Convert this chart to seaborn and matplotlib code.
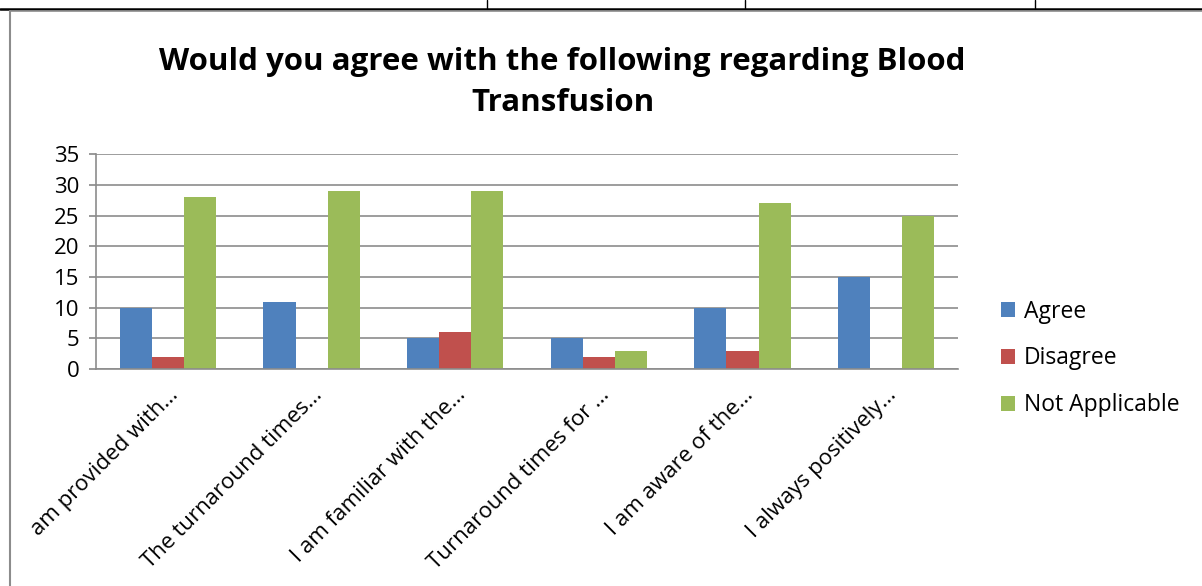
import matplotlib
matplotlib.use("Agg")
import matplotlib.pyplot as plt
import seaborn as sns
import pandas as pd
from matplotlib.lines import Line2D

categories = [
    "am provided with…",
    "The turnaround times…",
    "I am familiar with the…",
    "Turnaround times for …",
    "I am aware of the…",
    "I always positively…",
]
series_names = ["Agree", "Disagree", "Not Applicable"]
agree = [10, 11, 5, 5, 10, 15]
disagree = [2, 0, 6, 2, 3, 0]
not_applicable = [28, 29, 29, 3, 27, 25]
y_ticks = [0, 5, 10, 15, 20, 25, 30, 35]
title = "Would you agree with the following regarding Blood\nTransfusion"
colors = ["#4F81BD", "#C0504D", "#9BBB59"]

sns.set_theme(style="white")
plt.rcParams["font.family"] = ["Open Sans", "DejaVu Sans"]
plt.rcParams["text.color"] = "black"

df = pd.DataFrame({
    "question": categories * 3,
    "response": sum([[s] * len(categories) for s in series_names], []),
    "count": agree + disagree + not_applicable,
})

fig = plt.figure(figsize=(12.02, 5.86), dpi=100)
ax = fig.add_axes([0.080, 0.370, 0.717, 0.367])

sns.barplot(data=df, x="question", y="count", hue="response",
            palette=colors, width=0.67, gap=0, saturation=1,
            edgecolor="none", ax=ax, legend=True)

ax.set_ylim(0, 35)
ax.set_yticks(y_ticks)
ax.set_xlim(-0.5, len(categories) - 0.5)
ax.yaxis.grid(True, color="#8c8c8c", linewidth=1.2)
ax.set_axisbelow(True)
for side in ["top", "right"]:
    ax.spines[side].set_visible(False)
for side in ["left", "bottom"]:
    ax.spines[side].set_color("#8c8c8c")
    ax.spines[side].set_linewidth(1.2)
ax.tick_params(axis="y", which="both", left=True, length=5, color="#8c8c8c",
               labelsize=16, pad=7, labelcolor="black")
ax.tick_params(axis="x", bottom=False, labelsize=16, pad=5, labelcolor="black")
ax.set_xlabel("")
ax.set_ylabel("")
plt.setp(ax.get_xticklabels(), rotation=45, ha="right", rotation_mode="anchor")

handles, labels = ax.get_legend_handles_labels()
leg = ax.legend(handles, labels, loc="center left", bbox_to_anchor=(1.039, 0.05),
                frameon=False, fontsize=16.5, handlelength=0.6, handleheight=0.6,
                handletextpad=0.4, labelspacing=1.0, borderaxespad=0)
for t in leg.get_texts():
    t.set_color("black")

fig.text(0.468, 0.859, title, ha="center", va="center", fontsize=22.5,
         fontweight="bold", linespacing=1.45, color="black")

# surrounding document frame
fig.add_artist(Line2D([0, 1], [1 - 9 / 586, 1 - 9 / 586], color="black", linewidth=1.8))
for xp in [487, 745, 1035]:
    fig.add_artist(Line2D([xp / 1202, xp / 1202], [1, 1 - 9 / 586], color="black", linewidth=1))
fig.add_artist(Line2D([10 / 1202, 10 / 1202], [0, 1 - 11 / 586], color="#8c8c8c", linewidth=1.5))
fig.add_artist(Line2D([10 / 1202, 1], [1 - 11 / 586, 1 - 11 / 586], color="#8c8c8c", linewidth=1.2))

fig.savefig("out.png", dpi=100, facecolor="white")
